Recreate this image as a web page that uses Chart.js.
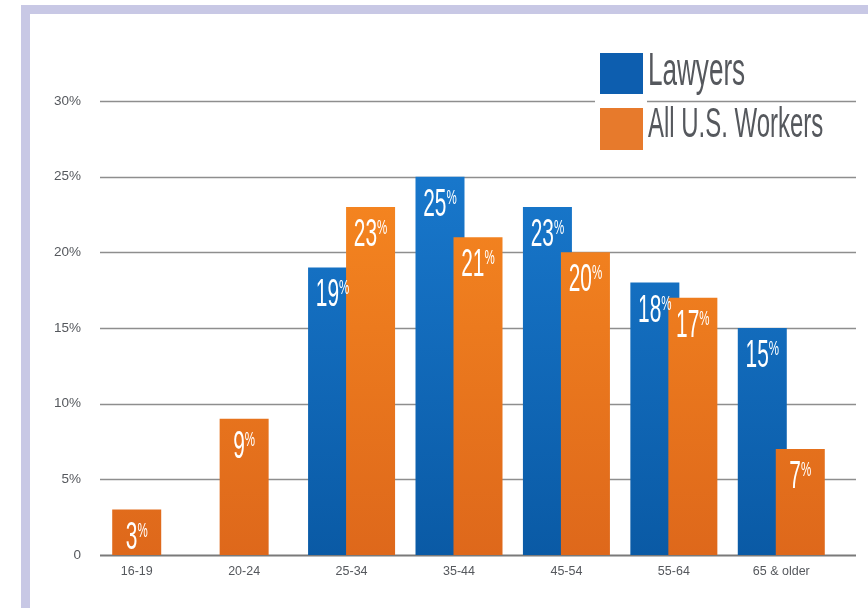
<!DOCTYPE html>
<html lang="en">
<head>
    <meta charset="UTF-8">
    <title>Lawyers vs. All U.S. Workers by Age</title>
    <script src="https://cdn.jsdelivr.net/npm/chart.js"></script>
    <style>
        html, body {
            margin: 0;
            padding: 0;
            background: #ffffff;
            overflow: hidden;
        }

        .frame {
            position: absolute;
            left: 21px;
            top: 5px;
            width: 900px;
            height: 594px;
            border: 9px solid #c8c8e5;
            border-right: none;
            background: #ffffff;
        }

        .chart-box {
            position: absolute;
            left: 0;
            top: 0;
            width: 868px;
            height: 608px;
        }
    </style>
</head>
<body>

    <div class="frame"></div>
    <div class="chart-box">
        <canvas id="ageChart"></canvas>
    </div>

    <script>
        // Share of each group by age bracket (%)
        const ageGroups = ['16-19', '20-24', '25-34', '35-44', '45-54', '55-64', '65 & older'];
        const lawyersPct = [null, null, 19, 25, 23, 18, 15];
        const allWorkersPct = [3, 9, 23, 21, 20, 17, 7];
        const yTicks = [0, 5, 10, 15, 20, 25, 30];

        const BLUE = '#0d5eaf';
        const ORANGE = '#e77a2c';
        const TEXT_GREY = '#55585d';

        const gradientFor = (chart, top, bottom) => {
            const area = chart.chartArea;
            if (!area) return top;
            const g = chart.ctx.createLinearGradient(0, area.top, 0, area.bottom);
            g.addColorStop(0, top);
            g.addColorStop(1, bottom);
            return g;
        };
        const blueFill = ctx => gradientFor(ctx.chart, '#1b7dd3', '#0a5aa5');
        const orangeFill = ctx => gradientFor(ctx.chart, '#fa8c21', '#de681b');

        // Condensed white "NN%" inside the top of a bar
        const drawPct = (ctx, value, cx, top) => {
            const sx = 0.55;
            const digits = String(value);
            ctx.save();
            ctx.fillStyle = '#ffffff';
            ctx.textBaseline = 'alphabetic';
            ctx.font = '38px "Liberation Sans", Arial, sans-serif';
            const wd = ctx.measureText(digits).width;
            ctx.font = '21px "Liberation Sans", Arial, sans-serif';
            const wp = ctx.measureText('%').width;
            ctx.translate(cx - (wd + wp) * sx / 2, top);
            ctx.scale(sx, 1);
            ctx.font = '38px "Liberation Sans", Arial, sans-serif';
            ctx.fillText(digits, 0, 27);
            ctx.font = '21px "Liberation Sans", Arial, sans-serif';
            ctx.fillText('%', wd, 15);
            ctx.restore();
        };

        const condensedText = (ctx, text, x, baseline, size, sx) => {
            ctx.save();
            ctx.translate(x, baseline);
            ctx.scale(sx, 1);
            ctx.font = size + 'px "Liberation Sans", Arial, sans-serif';
            ctx.fillStyle = TEXT_GREY;
            ctx.textBaseline = 'alphabetic';
            ctx.fillText(text, 0, 0);
            ctx.restore();
        };

        const infographic = {
            id: 'infographic',
            beforeDatasetsDraw(chart) {
                const { ctx, scales: { y } } = chart;
                // horizontal rules, running a little past the plot on both sides
                ctx.save();
                yTicks.forEach(t => {
                    const py = Math.round(y.getPixelForValue(t)) + 0.5;
                    ctx.strokeStyle = t === 0 ? '#7a7a7a' : '#8e8e8e';
                    ctx.lineWidth = t === 0 ? 2 : 1.5;
                    ctx.beginPath();
                    ctx.moveTo(100, py);
                    ctx.lineTo(856, py);
                    ctx.stroke();
                });
                ctx.restore();
                // lawyers bars go underneath the workers bars
                chart.getDatasetMeta(0).controller.draw();
            },
            beforeDatasetDraw(chart, args) {
                if (args.index === 0) return false;
            },
            afterDatasetsDraw(chart) {
                const ctx = chart.ctx;
                chart.data.datasets.forEach((ds, di) => {
                    chart.getDatasetMeta(di).data.forEach((bar, i) => {
                        const v = ds.data[i];
                        if (v == null) return;
                        drawPct(ctx, v, bar.x, bar.y + 12);
                    });
                });

                // legend
                ctx.save();
                ctx.fillStyle = '#ffffff';
                ctx.fillRect(595, 95, 52, 12);
                ctx.fillStyle = BLUE;
                ctx.fillRect(600, 53, 43, 41);
                ctx.fillStyle = ORANGE;
                ctx.fillRect(600, 108, 43, 42);
                ctx.restore();
                condensedText(ctx, 'Lawyers', 648, 85, 46, 0.567);
                condensedText(ctx, 'All U.S. Workers', 648, 137, 42, 0.57);
            }
        };

        new Chart(document.getElementById('ageChart').getContext('2d'), {
            type: 'bar',
            data: {
                labels: ageGroups,
                datasets: [
                    {
                        label: 'Lawyers',
                        data: lawyersPct,
                        backgroundColor: blueFill
                    },
                    {
                        label: 'All U.S. Workers',
                        data: allWorkersPct,
                        backgroundColor: orangeFill
                    }
                ]
            },
            options: {
                responsive: true,
                maintainAspectRatio: false,
                animation: false,
                // bars a bit wider than their slot so the pair overlaps; a lone bar stays centred
                skipNull: true,
                categoryPercentage: 0.7075,
                barPercentage: 1.29,
                maxBarThickness: 49,
                layout: {
                    padding: { left: 0, right: 33, top: 101, bottom: 0 }
                },
                plugins: {
                    legend: { display: false },
                    tooltip: { enabled: false }
                },
                scales: {
                    x: {
                        type: 'category',
                        offset: true,
                        grid: { display: false, drawTicks: false },
                        border: { display: false },
                        ticks: {
                            color: TEXT_GREY,
                            padding: 9,
                            font: { family: '"Liberation Sans", Arial, sans-serif', size: 12.5 }
                        },
                        afterFit: scale => { scale.height = 53; }
                    },
                    y: {
                        min: 0,
                        max: 30,
                        grid: { display: false, drawTicks: false },
                        border: { display: false },
                        ticks: {
                            stepSize: 5,
                            color: TEXT_GREY,
                            padding: 2,
                            font: { family: '"Liberation Sans", Arial, sans-serif', size: 13.5 },
                            callback: v => v === 0 ? '0' : v + '%'
                        },
                        afterFit: scale => { scale.width = 83; }
                    }
                }
            },
            plugins: [infographic]
        });
    </script>

</body>
</html>
